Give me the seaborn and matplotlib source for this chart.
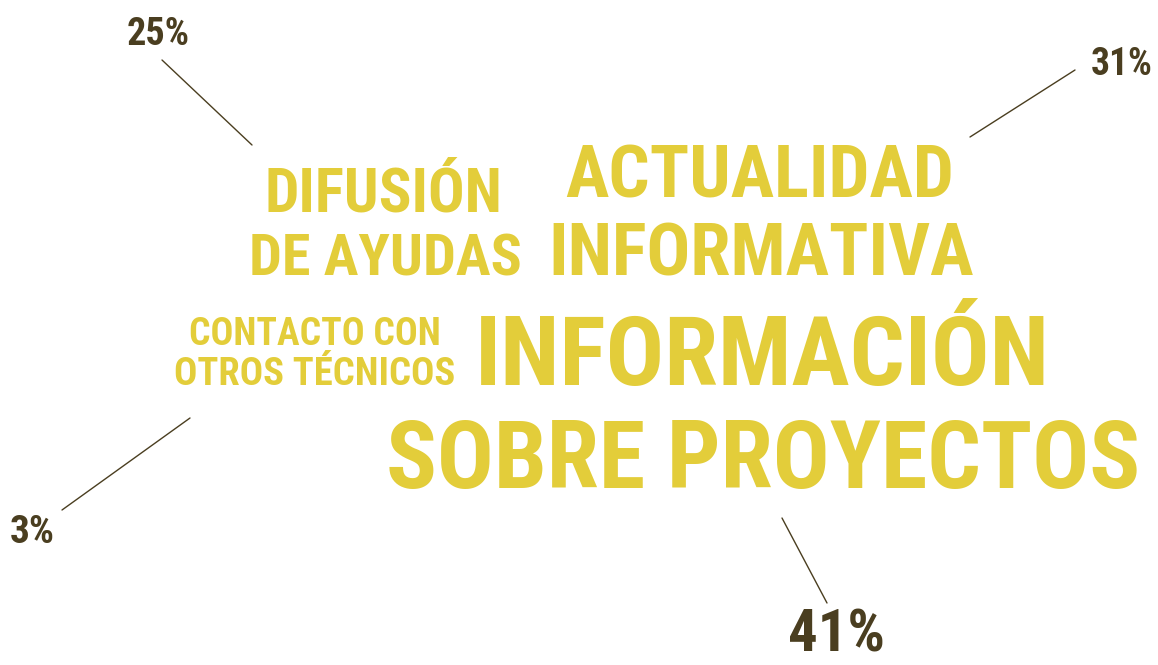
import os
import matplotlib.pyplot as plt
import matplotlib.font_manager as fm
import seaborn as sns

# data
categories = [
    "INFORMACIÓN\nSOBRE PROYECTOS",
    "ACTUALIDAD\nINFORMATIVA",
    "DIFUSIÓN\nDE AYUDAS",
    "CONTACTO CON\nOTROS TÉCNICOS",
]
shares = [41, 31, 25, 3]

YELLOW = "#E3CD3A"
BROWN = "#4A3E20"

# layout in pixels (y down): centre x, baselines, target widths, cap height
layout = {
    "INFORMACIÓN\nSOBRE PROYECTOS": dict(x=[762, 763], base=[385, 488], width=[575, 755], cap=84,
                                         pct=(836, 652), pct_w=97, pct_cap=44,
                                         leader=[(782, 518), (827, 603)]),
    "ACTUALIDAD\nINFORMATIVA": dict(x=[760, 761], base=[197, 275], width=[388, 426], cap=64,
                                    pct=(1122, 75), pct_w=65, pct_cap=27,
                                    leader=[(1075, 70), (970, 137)]),
    "DIFUSIÓN\nDE AYUDAS": dict(x=[383, 385], base=[212, 275], width=[238, 273], cap=51,
                                pct=(158, 45), pct_w=63, pct_cap=28,
                                leader=[(162, 60), (252, 145)]),
    "CONTACTO CON\nOTROS TÉCNICOS": dict(x=[315, 315], base=[345, 385], width=[252, 281], cap=34,
                                         pct=(32, 543), pct_w=45, pct_cap=30,
                                         leader=[(190, 418), (62, 510)]),
}


def pick_font():
    """Narrowest bold font that is installed."""
    prefs = ["NotoSans-ExtraCondensedBold", "NotoSans-CondensedBold",
             "RobotoCondensed-Bold", "OpenSans-CondensedBold",
             "LiberationSansNarrow-Bold", "OpenSansCondensed-Bold"]
    files = [f.fname for f in fm.fontManager.ttflist]
    for p in prefs:
        for f in files:
            if os.path.basename(f).startswith(p):
                return fm.FontProperties(fname=f)
    for f in fm.fontManager.ttflist:
        low = os.path.basename(f.fname).lower()
        if ("narrow" in low or "condensed" in low) and "bold" in low and "italic" not in low:
            return fm.FontProperties(fname=f.fname)
    return fm.FontProperties(family="Liberation Sans", weight="bold")


sns.set_theme(style="white")
font = pick_font()

W, H, DPI = 1158, 665, 100
fig = plt.figure(figsize=(W / DPI, H / DPI), dpi=DPI)
ax = fig.add_axes([0, 0, 1, 1])
ax.set_xlim(0, W)
ax.set_ylim(H, 0)
ax.axis("off")
renderer = fig.canvas.get_renderer()

CAP = 0.72  # cap height / em


def fitted_text(x, y, s, width, cap, color):
    fs_h = cap / CAP * 72 / DPI
    t = ax.text(x, y, s, ha="center", va="baseline", fontproperties=font,
                fontsize=fs_h, color=color)
    w = t.get_window_extent(renderer).width
    t.set_fontsize(min(fs_h, fs_h * width / w))
    return t


for cat, val in zip(categories, shares):
    lay = layout[cat]
    for line, x, base, wd in zip(cat.split("\n"), lay["x"], lay["base"], lay["width"]):
        fitted_text(x, base, line, wd, lay["cap"], YELLOW)
    px, py = lay["pct"]
    fitted_text(px, py, f"{val}%", lay["pct_w"], lay["pct_cap"], BROWN)
    (x0, y0), (x1, y1) = lay["leader"]
    ax.plot([x0, x1], [y0, y1], color=BROWN, lw=1)

fig.savefig("out.png", dpi=DPI)
